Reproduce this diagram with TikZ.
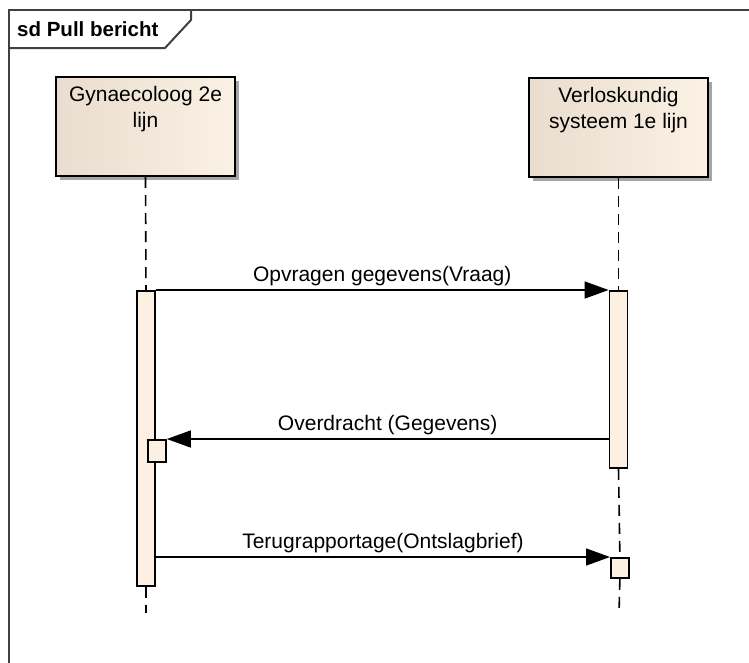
\documentclass[tikz,border=0pt]{standalone}
\usepackage{fontspec}
\setmainfont{Liberation Sans}
\usetikzlibrary{positioning,arrows.meta,shadows}
\definecolor{headleft}{RGB}{232,221,206}
\definecolor{headright}{RGB}{251,241,228}
\definecolor{barfill}{RGB}{251,240,226}
\definecolor{framegray}{RGB}{64,64,64}

\begin{document}
\begin{tikzpicture}[x=1pt, y=-1pt, font=\fontsize{21}{26}\selectfont,
				head/.style = {draw, line width=2pt, left color=headleft, right color=headright, minimum width=179pt, minimum height=99pt, inner sep=0pt, drop shadow={shadow xshift=4pt, shadow yshift=-4pt, fill=black!35, opacity=1}},
				headtext/.style = {align=center, inner sep=0pt, anchor=north},
				bar/.style = {draw, line width=1.8pt, fill=barfill, minimum width=18pt, inner sep=0pt, anchor=north},
				lifeline/.style = {line width=1.6pt, dash pattern=on 11pt off 7pt},
				msg/.style = {line width=1.5pt, -{Triangle[length=24pt, width=17pt]}},
				msgtext/.style = {above=3pt, inner sep=0pt},
				framebox/.style = {line width=2pt, draw=framegray}]

				\useasboundingbox (0,0) rectangle (749,662);
				\clip (0,0) rectangle (749,662);

				% frame
				\draw[framebox] (9,700) |- (780,10);
				\draw[framebox] (9,48) -- (165,48) -- (191,20) -- (191,10);
				\node[anchor=west, inner sep=0pt, font=\fontsize{20.5}{24}\selectfont\bfseries] (title) at (17,29) {sd Pull bericht};

				% lifelines
				\node[head] (gyn) at (145.5,126.5) {};
				\node[head] (verl) at (618.5,127.5) {};
				\node[headtext, below=10pt of gyn.north] (gyntext) {Gynaecoloog 2e\\lijn};
				\node[headtext, below=10pt of verl.north] (verltext) {Verloskundig\\systeem 1e lijn};

				\node[bar, minimum height=295pt] (act1) at (146,290) {};
				\node[bar, minimum height=177pt] (act2) at (618.5,290) {};
				\node[bar, minimum height=22pt, anchor=north west] (exec1) at (147,439) {};
				\node[bar, minimum height=20pt, anchor=north west] (exec2) at (610,557) {};

				\coordinate (end1) at (146,613);
				\coordinate (end2) at (619,613);

				\draw[lifeline] (gyn.south) -- (act1.north);
				\draw[lifeline] (act1.south) -- (end1);
				\draw[lifeline] (verl.south) -- (act2.north);
				\draw[lifeline] (act2.south) -- (exec2.north);
				\draw[lifeline] (exec2.south) -- (end2);

				% messages
				\draw[msg] (act1.north east) -- (act2.north west) node[midway, msgtext] {Opvragen gegevens(Vraag)};
				\draw[msg] (act2.west |- exec1.north) -- (exec1.north east) node[midway, msgtext] {Overdracht (Gegevens)};
				\draw[msg] (act1.east |- exec2.north) -- (exec2.north west) node[midway, msgtext] {Terugrapportage(Ontslagbrief)};

			\end{tikzpicture}
\end{document}
